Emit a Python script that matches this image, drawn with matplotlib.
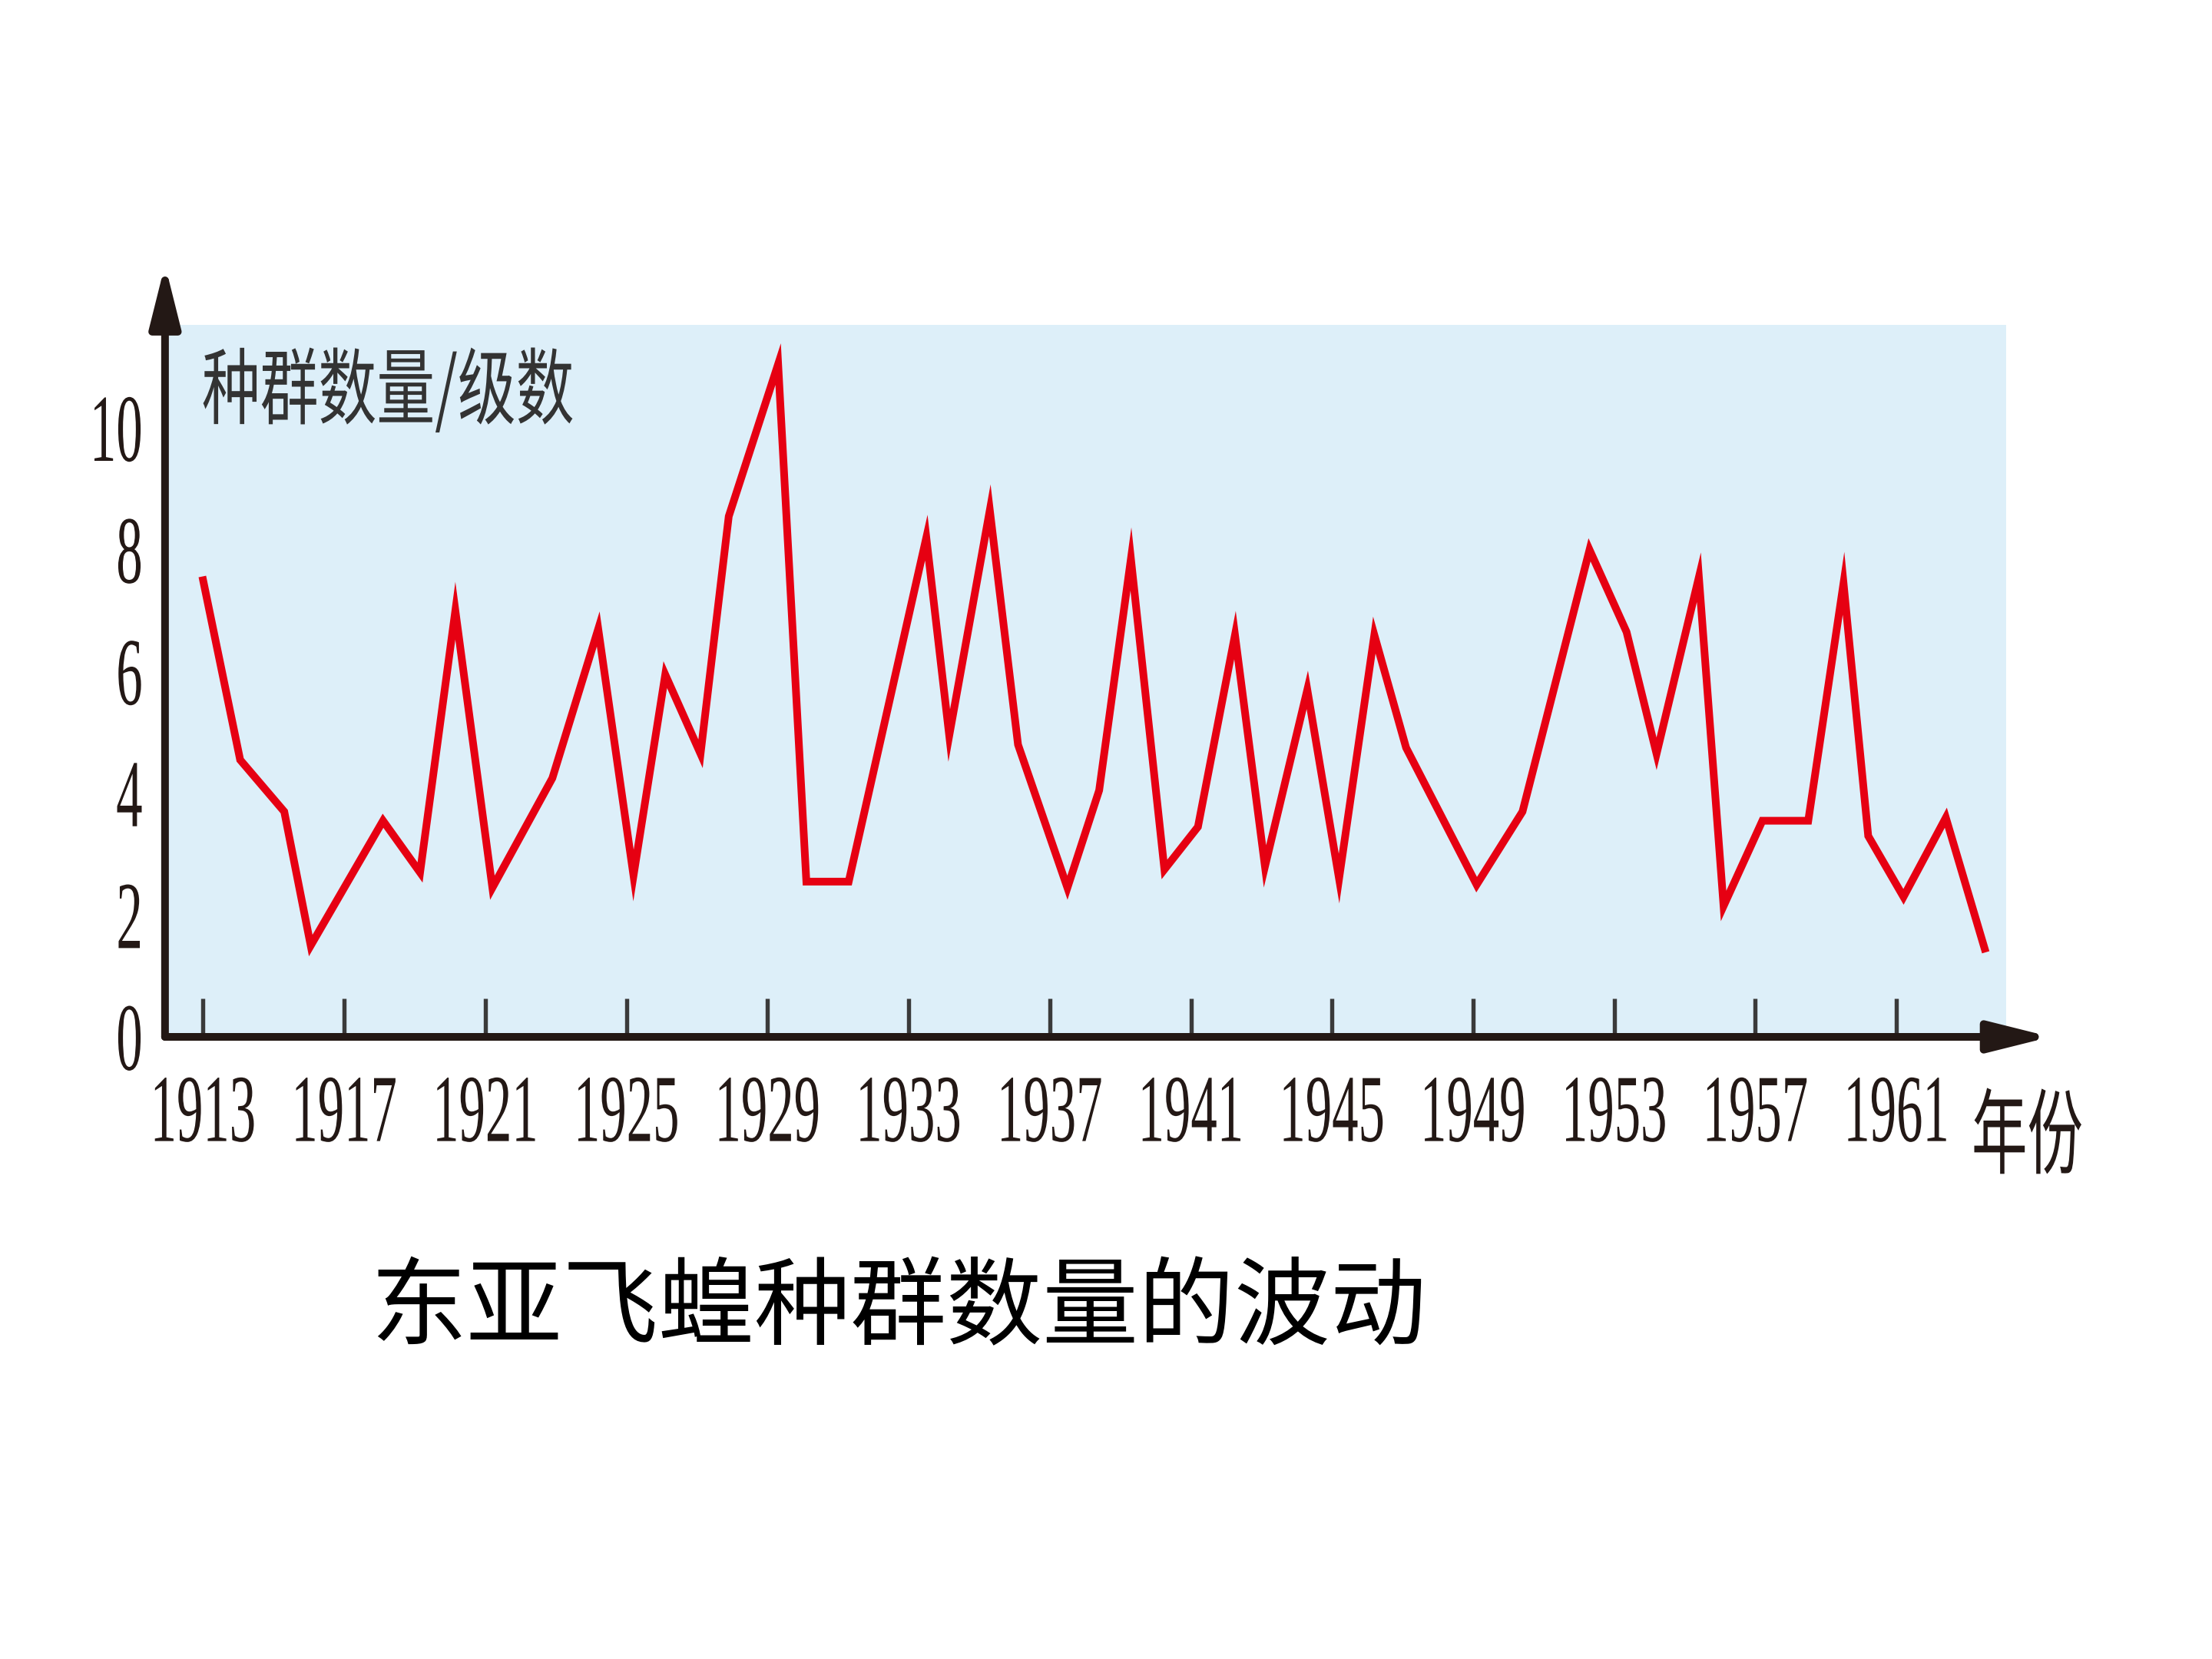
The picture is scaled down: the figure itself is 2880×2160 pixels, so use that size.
import matplotlib
matplotlib.use("Agg")
import matplotlib.pyplot as plt
from matplotlib import patheffects
from matplotlib.patches import ArrowStyle
from matplotlib.transforms import Affine2D

plt.rcParams['font.family'] = ['Liberation Serif', 'Noto Sans CJK SC', 'DejaVu Sans']

# values (year, population level)
years = [1913.0, 1914.05, 1915.3, 1916.05, 1918.1, 1919.15, 1920.15, 1921.2, 1922.9, 1924.2,
         1925.2, 1926.1, 1927.1, 1927.9, 1929.3, 1930.1, 1931.3, 1933.5, 1934.15, 1935.3,
         1936.1, 1937.5, 1938.4, 1939.3, 1940.25, 1941.2, 1942.25, 1943.1, 1944.3, 1945.2,
         1946.2, 1947.1, 1949.1, 1950.4, 1952.3, 1953.35, 1954.2, 1955.4, 1956.1, 1957.2,
         1958.5, 1959.5, 1960.2, 1961.2, 1962.4, 1963.5]
levels = [7.5, 4.55, 3.7, 1.5, 3.55, 2.7, 7.0, 2.45, 4.25, 6.7,
          2.65, 5.95, 4.65, 8.55, 11.05, 2.55, 2.55, 8.2, 4.95, 8.65,
          4.8, 2.45, 4.05, 7.85, 2.75, 3.45, 6.6, 2.8, 5.7, 2.6,
          6.6, 4.75, 2.5, 3.7, 8.0, 6.65, 4.65, 7.55, 2.15, 3.55,
          3.55, 7.45, 3.3, 2.3, 3.6, 1.45]
xtick_years = [1913, 1917, 1921, 1925, 1929, 1933, 1937, 1941, 1945, 1949, 1953, 1957, 1961]
ytick_vals = [0, 2, 4, 6, 8, 10]

y_label = '种群数量/级数'
x_label = '年份'
caption = '东亚飞蝗种群数量的波动'

INK = '#231815'
CJK = ['Noto Sans CJK SC', 'DejaVu Sans']


class Tall(patheffects.AbstractPathEffect):
    """Stretch text vertically about its middle (the original uses a condensed face)."""
    def __init__(self, sy=1.8):
        super().__init__()
        self.sy = sy

    def draw_path(self, renderer, gc, tpath, affine, rgbFace=None):
        ext = tpath.get_extents()
        cy = (ext.y0 + ext.y1) / 2
        t = Affine2D().translate(0, -cy).scale(1, self.sy).translate(0, cy) + affine
        renderer.draw_path(gc, tpath, t, rgbFace)


fig = plt.figure(figsize=(9.6, 7.2), dpi=300)
ax = fig.add_axes([0.0746, 0.375, 0.8325, 0.429])
ax.set_facecolor('#DDEFF9')

ax.plot(years, levels, color='#E60012', lw=2.4, solid_joinstyle='miter', zorder=3)

ax.set_xlim(1911.92, 1964.12)
ax.set_ylim(0, 11.69)

for s in ax.spines.values():
    s.set_visible(False)

ax.set_xticks(xtick_years)
ax.set_xticklabels([str(y) for y in xtick_years])
ax.set_yticks(ytick_vals)
ax.set_yticklabels([str(v) for v in ytick_vals])
ax.tick_params(axis='x', direction='in', length=12, width=1.3, color='#3a3a3a',
               pad=16.5, labelsize=16.5, labelcolor=INK)
ax.tick_params(axis='y', length=0, pad=7, labelsize=16.5, labelcolor=INK)
for lab in ax.get_xticklabels() + ax.get_yticklabels():
    lab.set_path_effects([Tall(1.82)])

# axis lines with arrow heads
head = ArrowStyle('-|>', head_length=1.6, head_width=0.4)
ax.annotate('', xy=(0, 1.085), xytext=(0, 0), xycoords='axes fraction',
            arrowprops=dict(arrowstyle=head, lw=2.4, color=INK, mutation_scale=10,
                            shrinkA=0, shrinkB=0), annotation_clip=False)
ax.annotate('', xy=(1.024, 0), xytext=(0, 0), xycoords='axes fraction',
            arrowprops=dict(arrowstyle=head, lw=2.4, color=INK, mutation_scale=10,
                            shrinkA=0, shrinkB=0), annotation_clip=False)

ax.text(0.121, 0.905, y_label, transform=ax.transAxes, ha='center', va='center',
        fontsize=18.2, color='#333333', family=CJK, path_effects=[Tall(1.43)])
fig.text(0.9165, 0.315, x_label, ha='center', va='center', fontsize=17.4, color=INK,
         family=CJK, path_effects=[Tall(1.67)])
fig.text(0.406, 0.21, caption, ha='center', va='center', fontsize=30, color='black',
         family=CJK)

fig.savefig('out.png', dpi=300)
